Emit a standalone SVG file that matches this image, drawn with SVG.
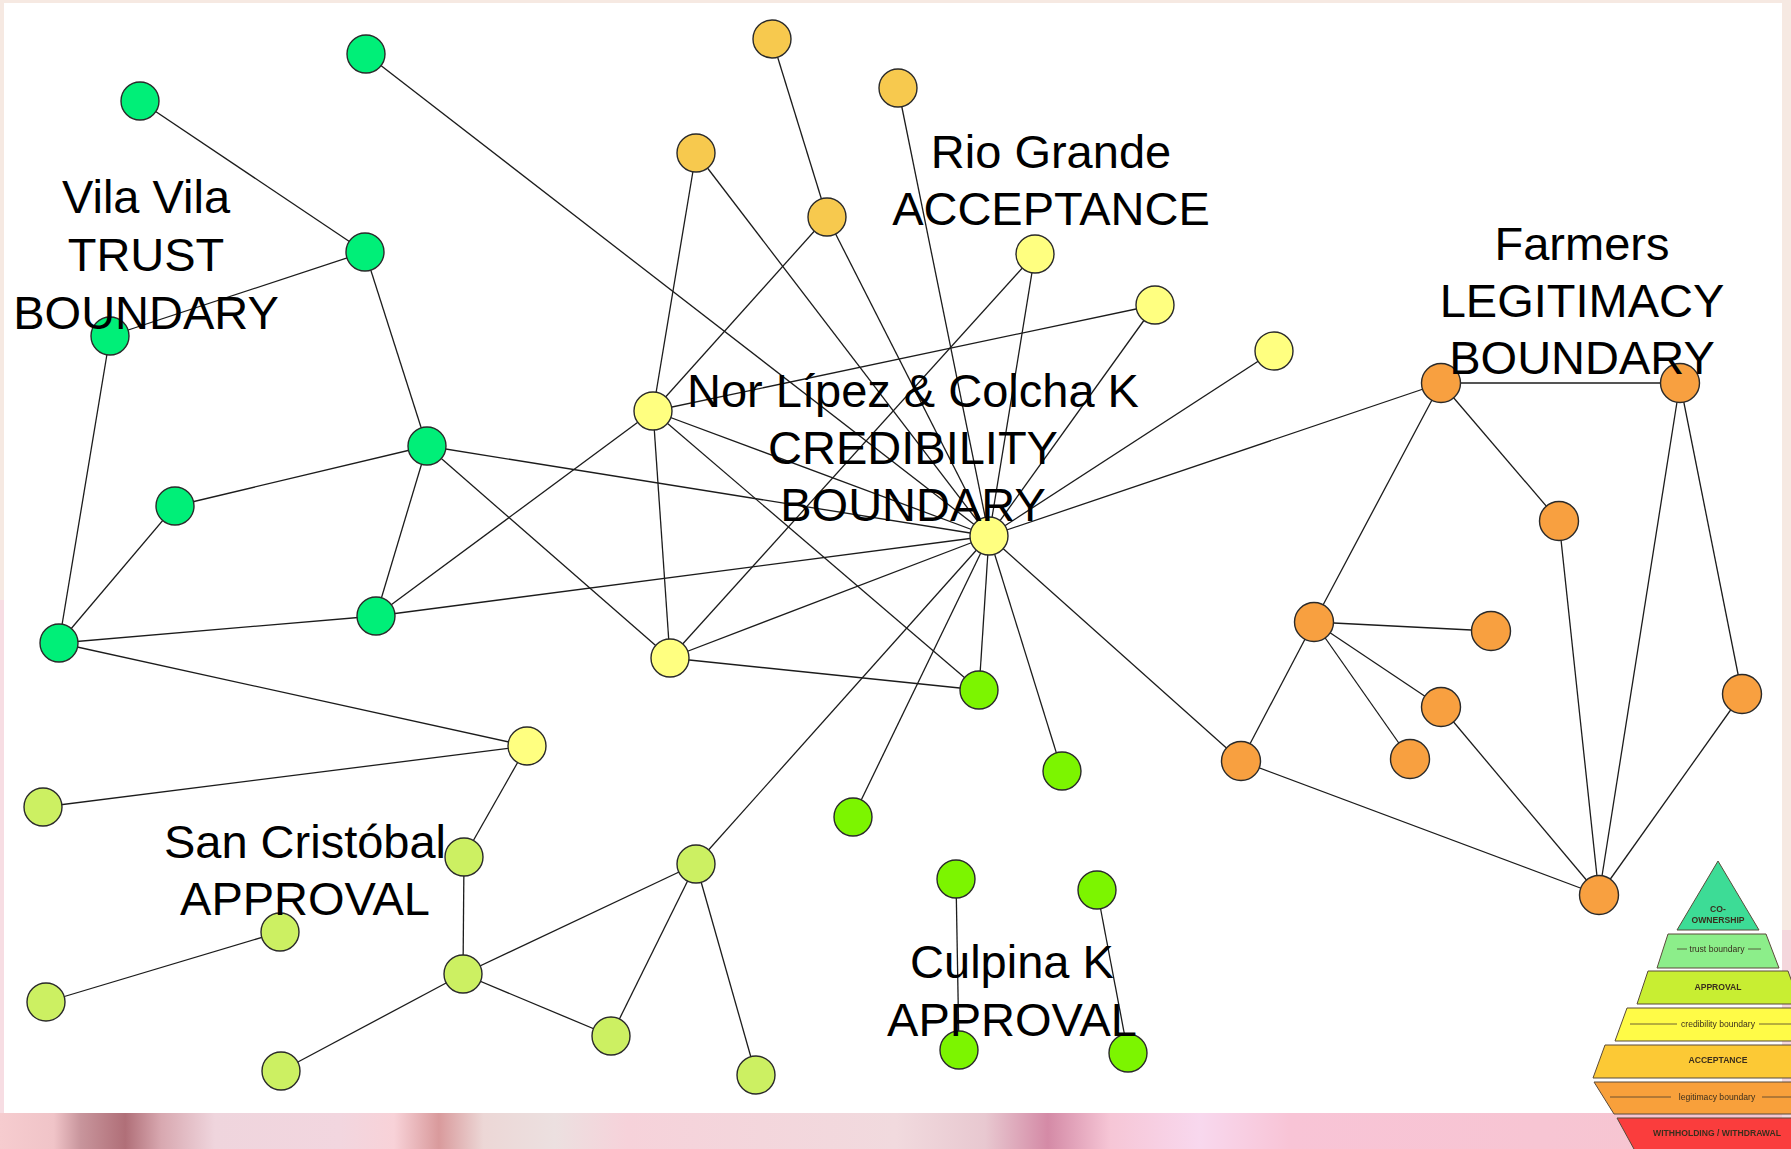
<svg xmlns="http://www.w3.org/2000/svg" width="1791" height="1149" viewBox="0 0 1791 1149">
  <defs>
    <style>
      .e { stroke: #1c1c1c; stroke-width: 1.3; fill: none; }
      .n { stroke: #2a2a2a; stroke-width: 1.4; }
      .trust { fill: #00ef78; }
      .acc { fill: #f7c94e; }
      .cred { fill: #ffff80; }
      .appr { fill: #7cf500; }
      .lime { fill: #ccf062; }
      .legit { fill: #f8a040; }
      .lbl { font-family: "Liberation Sans", Arial, sans-serif; font-size: 47px; fill: #000; text-anchor: middle; }
      .band { stroke: #5a4a3a; stroke-width: 1; }
      .pt { font-family: "Liberation Sans", Arial, sans-serif; font-size: 8.6px; fill: #3a2e1e; text-anchor: middle; }
      .pb { font-weight: bold; }
      .dash { stroke: #4a3e2e; stroke-width: 0.8; }
    </style>
    <linearGradient id="strip" x1="0" y1="0" x2="1" y2="0">
      <stop offset="0" stop-color="#f6cccf"/>
      <stop offset="0.03" stop-color="#f0c4c8"/>
      <stop offset="0.045" stop-color="#c8959c"/>
      <stop offset="0.07" stop-color="#b06f78"/>
      <stop offset="0.09" stop-color="#d8a8b0"/>
      <stop offset="0.12" stop-color="#efd5dd"/>
      <stop offset="0.19" stop-color="#f2d6df"/>
      <stop offset="0.22" stop-color="#f8d2d8"/>
      <stop offset="0.245" stop-color="#d99a9c"/>
      <stop offset="0.27" stop-color="#ecd7d6"/>
      <stop offset="0.31" stop-color="#ece0e0"/>
      <stop offset="0.35" stop-color="#f6d2da"/>
      <stop offset="0.50" stop-color="#f1dade"/>
      <stop offset="0.55" stop-color="#e8c8d0"/>
      <stop offset="0.585" stop-color="#d48aa6"/>
      <stop offset="0.62" stop-color="#f6c6d6"/>
      <stop offset="0.67" stop-color="#f8d8ee"/>
      <stop offset="0.72" stop-color="#f8c4d6"/>
      <stop offset="1" stop-color="#f6c6d0"/>
    </linearGradient>
    <filter id="soft" x="-5%" y="-5%" width="110%" height="110%">
      <feGaussianBlur stdDeviation="0.45"/>
    </filter>
  </defs>

  <!-- frame and canvas -->
  <rect x="0" y="0" width="1791" height="1149" fill="#f6e9e2"/>
  <rect x="0" y="600" width="4" height="549" fill="#f7dde3"/>
  <rect x="4" y="3" width="1778" height="1110" fill="#ffffff"/>
  <rect x="0" y="1113" width="1791" height="36" fill="url(#strip)"/>
  <rect x="1782" y="930" width="9" height="219" fill="#f4d6dc"/>

  <!-- connectors -->
  <g id="edges">
    <line class="e" x1="366" y1="54" x2="989" y2="536"/>
    <line class="e" x1="140" y1="101" x2="365" y2="252"/>
    <line class="e" x1="365" y1="252" x2="110" y2="336"/>
    <line class="e" x1="365" y1="252" x2="427" y2="446"/>
    <line class="e" x1="110" y1="336" x2="59" y2="643"/>
    <line class="e" x1="427" y1="446" x2="175" y2="506"/>
    <line class="e" x1="427" y1="446" x2="376" y2="616"/>
    <line class="e" x1="427" y1="446" x2="989" y2="536"/>
    <line class="e" x1="427" y1="446" x2="670" y2="658"/>
    <line class="e" x1="175" y1="506" x2="59" y2="643"/>
    <line class="e" x1="376" y1="616" x2="59" y2="643"/>
    <line class="e" x1="376" y1="616" x2="653" y2="411"/>
    <line class="e" x1="376" y1="616" x2="989" y2="536"/>
    <line class="e" x1="59" y1="643" x2="527" y2="746"/>
    <line class="e" x1="772" y1="39" x2="827" y2="217"/>
    <line class="e" x1="898" y1="88" x2="989" y2="536"/>
    <line class="e" x1="696" y1="153" x2="653" y2="411"/>
    <line class="e" x1="696" y1="153" x2="989" y2="536"/>
    <line class="e" x1="827" y1="217" x2="653" y2="411"/>
    <line class="e" x1="827" y1="217" x2="989" y2="536"/>
    <line class="e" x1="1035" y1="254" x2="989" y2="536"/>
    <line class="e" x1="1035" y1="254" x2="670" y2="658"/>
    <line class="e" x1="1155" y1="305" x2="653" y2="411"/>
    <line class="e" x1="1155" y1="305" x2="989" y2="536"/>
    <line class="e" x1="1274" y1="351" x2="989" y2="536"/>
    <line class="e" x1="653" y1="411" x2="989" y2="536"/>
    <line class="e" x1="653" y1="411" x2="670" y2="658"/>
    <line class="e" x1="653" y1="411" x2="979" y2="690"/>
    <line class="e" x1="670" y1="658" x2="989" y2="536"/>
    <line class="e" x1="670" y1="658" x2="979" y2="690"/>
    <line class="e" x1="527" y1="746" x2="43" y2="807"/>
    <line class="e" x1="527" y1="746" x2="464" y2="857"/>
    <line class="e" x1="989" y1="536" x2="979" y2="690"/>
    <line class="e" x1="989" y1="536" x2="1062" y2="771"/>
    <line class="e" x1="989" y1="536" x2="853" y2="817"/>
    <line class="e" x1="989" y1="536" x2="696" y2="864"/>
    <line class="e" x1="989" y1="536" x2="1441" y2="383"/>
    <line class="e" x1="989" y1="536" x2="1241" y2="761"/>
    <line class="e" x1="464" y1="857" x2="463" y2="974"/>
    <line class="e" x1="280" y1="932" x2="46" y2="1002"/>
    <line class="e" x1="463" y1="974" x2="696" y2="864"/>
    <line class="e" x1="463" y1="974" x2="611" y2="1036"/>
    <line class="e" x1="463" y1="974" x2="281" y2="1071"/>
    <line class="e" x1="696" y1="864" x2="611" y2="1036"/>
    <line class="e" x1="696" y1="864" x2="756" y2="1075"/>
    <line class="e" x1="956" y1="879" x2="959" y2="1050"/>
    <line class="e" x1="1097" y1="890" x2="1128" y2="1053"/>
    <line class="e" x1="1441" y1="383" x2="1680" y2="383"/>
    <line class="e" x1="1441" y1="383" x2="1559" y2="521"/>
    <line class="e" x1="1441" y1="383" x2="1314" y2="622"/>
    <line class="e" x1="1559" y1="521" x2="1599" y2="895"/>
    <line class="e" x1="1680" y1="383" x2="1599" y2="895"/>
    <line class="e" x1="1680" y1="383" x2="1742" y2="694"/>
    <line class="e" x1="1742" y1="694" x2="1599" y2="895"/>
    <line class="e" x1="1314" y1="622" x2="1491" y2="631"/>
    <line class="e" x1="1314" y1="622" x2="1441" y2="707"/>
    <line class="e" x1="1314" y1="622" x2="1410" y2="759"/>
    <line class="e" x1="1314" y1="622" x2="1241" y2="761"/>
    <line class="e" x1="1441" y1="707" x2="1599" y2="895"/>
    <line class="e" x1="1241" y1="761" x2="1599" y2="895"/>
  </g>

  <!-- nodes: Vila Vila (trust) -->
  <g id="n1"><circle class="n trust" cx="366" cy="54" r="19"/></g>
  <g id="n2"><circle class="n trust" cx="140" cy="101" r="19"/></g>
  <g id="n3"><circle class="n trust" cx="365" cy="252" r="19"/></g>
  <g id="n4"><circle class="n trust" cx="110" cy="336" r="19"/></g>
  <g id="n5"><circle class="n trust" cx="427" cy="446" r="19"/></g>
  <g id="n6"><circle class="n trust" cx="175" cy="506" r="19"/></g>
  <g id="n7"><circle class="n trust" cx="376" cy="616" r="19"/></g>
  <g id="n8"><circle class="n trust" cx="59" cy="643" r="19"/></g>

  <!-- nodes: Rio Grande (acceptance) -->
  <g id="n9"><circle class="n acc" cx="772" cy="39" r="19"/></g>
  <g id="n10"><circle class="n acc" cx="898" cy="88" r="19"/></g>
  <g id="n11"><circle class="n acc" cx="696" cy="153" r="19"/></g>
  <g id="n12"><circle class="n acc" cx="827" cy="217" r="19"/></g>

  <!-- nodes: Nor Lípez & Colcha K (credibility) -->
  <g id="n13"><circle class="n cred" cx="1035" cy="254" r="19"/></g>
  <g id="n14"><circle class="n cred" cx="1155" cy="305" r="19"/></g>
  <g id="n15"><circle class="n cred" cx="1274" cy="351" r="19"/></g>
  <g id="n16"><circle class="n cred" cx="653" cy="411" r="19"/></g>
  <g id="n17"><circle class="n cred" cx="989" cy="536" r="19"/></g>
  <g id="n18"><circle class="n cred" cx="670" cy="658" r="19"/></g>
  <g id="n19"><circle class="n cred" cx="527" cy="746" r="19"/></g>

  <!-- nodes: Culpina K (approval) -->
  <g id="n20"><circle class="n appr" cx="979" cy="690" r="19"/></g>
  <g id="n21"><circle class="n appr" cx="1062" cy="771" r="19"/></g>
  <g id="n22"><circle class="n appr" cx="853" cy="817" r="19"/></g>
  <g id="n23"><circle class="n appr" cx="956" cy="879" r="19"/></g>
  <g id="n24"><circle class="n appr" cx="1097" cy="890" r="19"/></g>
  <g id="n25"><circle class="n appr" cx="959" cy="1050" r="19"/></g>
  <g id="n26"><circle class="n appr" cx="1128" cy="1053" r="19"/></g>

  <!-- nodes: San Cristóbal (approval) -->
  <g id="n27"><circle class="n lime" cx="43" cy="807" r="19"/></g>
  <g id="n28"><circle class="n lime" cx="464" cy="857" r="19"/></g>
  <g id="n29"><circle class="n lime" cx="696" cy="864" r="19"/></g>
  <g id="n30"><circle class="n lime" cx="280" cy="932" r="19"/></g>
  <g id="n31"><circle class="n lime" cx="46" cy="1002" r="19"/></g>
  <g id="n32"><circle class="n lime" cx="463" cy="974" r="19"/></g>
  <g id="n33"><circle class="n lime" cx="611" cy="1036" r="19"/></g>
  <g id="n34"><circle class="n lime" cx="281" cy="1071" r="19"/></g>
  <g id="n35"><circle class="n lime" cx="756" cy="1075" r="19"/></g>

  <!-- nodes: Farmers (legitimacy) -->
  <g id="n36"><circle class="n legit" cx="1441" cy="383" r="19.5"/></g>
  <g id="n37"><circle class="n legit" cx="1680" cy="383" r="19.5"/></g>
  <g id="n38"><circle class="n legit" cx="1559" cy="521" r="19.5"/></g>
  <g id="n39"><circle class="n legit" cx="1314" cy="622" r="19.5"/></g>
  <g id="n40"><circle class="n legit" cx="1491" cy="631" r="19.5"/></g>
  <g id="n41"><circle class="n legit" cx="1441" cy="707" r="19.5"/></g>
  <g id="n42"><circle class="n legit" cx="1241" cy="761" r="19.5"/></g>
  <g id="n43"><circle class="n legit" cx="1410" cy="759" r="19.5"/></g>
  <g id="n44"><circle class="n legit" cx="1742" cy="694" r="19.5"/></g>
  <g id="n45"><circle class="n legit" cx="1599" cy="895" r="19.5"/></g>

  <!-- group labels -->
  <g id="labels">
    <text class="lbl"><tspan x="146" y="213">Vila Vila</tspan><tspan x="146" y="271">TRUST</tspan><tspan x="146" y="329">BOUNDARY</tspan></text>
    <text class="lbl"><tspan x="1051" y="168">Rio Grande</tspan><tspan x="1051" y="225">ACCEPTANCE</tspan></text>
    <text class="lbl"><tspan x="913" y="407">Nor Lípez &amp; Colcha K</tspan><tspan x="913" y="464">CREDIBILITY</tspan><tspan x="913" y="521">BOUNDARY</tspan></text>
    <text class="lbl"><tspan x="1582" y="260">Farmers</tspan><tspan x="1582" y="317">LEGITIMACY</tspan><tspan x="1582" y="374">BOUNDARY</tspan></text>
    <text class="lbl"><tspan x="305" y="858">San Cristóbal</tspan><tspan x="305" y="915">APPROVAL</tspan></text>
    <text class="lbl"><tspan x="1012" y="978">Culpina K</tspan><tspan x="1012" y="1036">APPROVAL</tspan></text>
  </g>

  <!-- engagement pyramid legend -->
  <g id="legend" filter="url(#soft)">
    <polygon class="band" fill="#3cdc96" points="1718,861 1759,930 1677,930"/>
    <polygon class="band" fill="#8cee8a" points="1668,934 1766,934 1779,968 1657,968"/>
    <polygon class="band" fill="#c8ee32" points="1648,971 1788,971 1800,1004 1637,1004"/>
    <polygon class="band" fill="#fffb46" points="1627,1008 1810,1008 1822,1041 1615,1041"/>
    <polygon class="band" fill="#fcc934" points="1605,1045 1830,1045 1842,1078 1593,1078"/>
    <polygon class="band" fill="#f8a03a" points="1594,1082 1842,1082 1822,1114 1614,1114"/>
    <polygon class="band" fill="#fa3e3e" points="1617,1118 1818,1118 1800,1160 1640,1160"/>

    <text class="pt pb" x="1718" y="912">CO-</text>
    <text class="pt pb" x="1718" y="923">OWNERSHIP</text>

    <line class="dash" x1="1677" y1="949" x2="1687" y2="949"/>
    <text class="pt" x="1717" y="952">trust boundary</text>
    <line class="dash" x1="1748" y1="949" x2="1761" y2="949"/>

    <text class="pt pb" x="1718" y="990">APPROVAL</text>

    <line class="dash" x1="1630" y1="1024" x2="1677" y2="1024"/>
    <text class="pt" x="1718" y="1027">credibility boundary</text>
    <line class="dash" x1="1759" y1="1024" x2="1791" y2="1024"/>

    <text class="pt pb" x="1718" y="1063">ACCEPTANCE</text>

    <line class="dash" x1="1610" y1="1097" x2="1671" y2="1097"/>
    <text class="pt" x="1717" y="1100">legitimacy boundary</text>
    <line class="dash" x1="1762" y1="1097" x2="1791" y2="1097"/>

    <text class="pt pb" x="1717" y="1136">WITHHOLDING / WITHDRAWAL</text>
  </g>
</svg>
